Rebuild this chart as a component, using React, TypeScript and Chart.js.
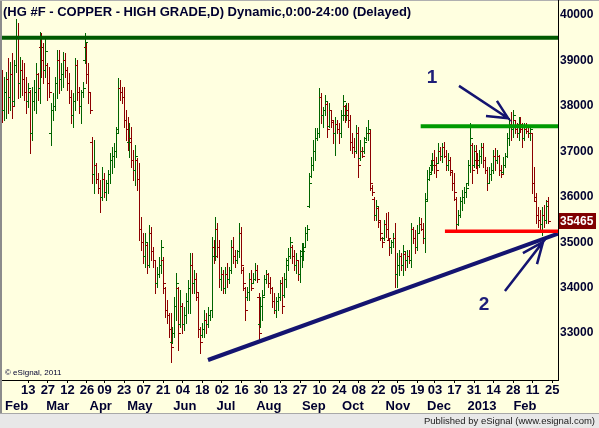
import React, { useEffect, useRef } from 'react';
import { Chart, registerables } from 'chart.js';

Chart.register(...registerables);

const TITLE = '(HG #F - COPPER - HIGH GRADE,D) Dynamic,0:00-24:00 (Delayed)';
const COPYRIGHT = '\u00A9 eSignal, 2011';
const FOOTER = 'Published by eSignal (www.esignal.com)';

// trading calendar
const FIRST_SESSION = '2012-01-25';
const LAST_CALENDAR_DAY = '2013-03-01';
const CLOSED_DAYS = ['2012-04-06', '2012-11-22'];

// daily OHLC, one value per session
const opens = [
  38500, 37900, 38300, 38600, 38200, 38700, 38100, 38900, 39500, 38500,
  38800, 38600, 38300, 38100, 38300, 37400, 38100, 38300, 38700, 38400,
  39300, 39000, 38800, 38900, 38500, 37400, 37900, 38000, 38500, 39000,
  38600, 38700, 39000, 38800, 38500, 38200, 37800, 38100, 38900, 38300,
  38000, 38300, 39000, 39300, 38700, 38300, 37200, 36500, 36700, 36400,
  36200, 36000, 36400, 36100, 36300, 36500, 36800, 36900, 37000, 37500,
  38400, 38300, 38200, 37700, 37500, 37200, 37300, 36800, 36600, 36800,
  36400, 35300, 35000, 34700, 34950, 34500, 35200, 34800, 34600, 34100,
  34300, 34500, 34600, 34000, 33500, 33400, 33100, 32800, 33000, 33600,
  34000, 33200, 33600, 33200, 33400, 33700, 34000, 34500, 34100, 34200,
  33800, 33100, 32950, 33100, 33300, 33200, 33400, 33500, 34900, 34700,
  35300, 34900, 34200, 34300, 34000, 34300, 34200, 34400, 34900, 34700,
  34600, 34800, 35200, 34400, 34000, 33800, 33900, 34200, 34100, 34200,
  34400, 33800, 33200, 33600, 33850, 34200, 34300, 34100, 34000, 33700,
  33500, 33700, 33800, 34100, 33850, 34200, 34500, 34700, 34900, 34700,
  34500, 34600, 34300, 34700, 34800, 34900, 35200, 35800, 36450, 36700,
  37000, 37300, 37400, 38200, 37800, 37900, 38050, 37550, 37900, 37650,
  37400, 37600, 37500, 37400, 37800, 38000, 37800, 37900, 37700, 37200,
  37100, 37000, 37400, 36850, 37000, 37000, 37300, 37400, 37400, 36200,
  35950, 35600, 35750, 35450, 35100, 35100, 35400, 35300, 35050, 34900,
  35000, 35100, 34300, 34500, 34700, 34500, 34750, 34600, 34700, 34600,
  35300, 35100, 34900, 35200, 35400, 35300, 35100, 35950, 36400, 36550,
  36700, 36800, 36700, 36750, 37000, 36900, 37100, 36900, 36700, 36800,
  36550, 36300, 35950, 35400, 35600, 35900, 36000, 36100, 36300, 36700,
  37150, 36700, 37000, 36800, 36700, 36900, 37100, 36800, 36600, 36300,
  36500, 36600, 36900, 36800, 36900, 36600, 36550, 36700, 36900, 37300,
  37600, 37500, 37700, 37500, 37400, 37600, 37500, 37300, 37500, 37450,
  37400, 37400, 36300, 35900, 35600, 35500, 35400, 35600, 35500, 35900,
];

const highs = [
  38790, 38640, 38750, 39050, 38960, 39160, 39010, 39910, 39820, 39080,
  39010, 38940, 38640, 38500, 38350, 38420, 38570, 38940, 38720, 39630,
  39600, 39380, 39490, 38940, 38860, 38060, 38280, 38640, 39230, 39230,
  38940, 39190, 39160, 38860, 38720, 38350, 38280, 39050, 39010, 38420,
  38350, 38530, 39600, 39380, 38940, 38280, 37310, 37250, 36740, 36520,
  36370, 36660, 36520, 36370, 36590, 36960, 37100, 37180, 37540, 38610,
  38570, 38420, 38420, 37910, 37760, 37620, 37540, 37030, 37140, 36850,
  36740, 35560, 35200, 35200, 34980, 35380, 35340, 34900, 34610, 34460,
  34680, 35050, 34680, 34020, 33730, 33440, 33440, 33140, 33800, 34320,
  34020, 33950, 33660, 33580, 33880, 34170, 34760, 34760, 34390, 34320,
  33880, 33140, 33220, 33510, 33440, 33580, 33510, 35120, 35050, 35560,
  35420, 35050, 34460, 34390, 34460, 34540, 34460, 35050, 35120, 34830,
  34830, 35420, 35340, 34460, 34020, 34020, 34320, 34390, 34320, 34540,
  34500, 33880, 33800, 33950, 34280, 34390, 34320, 34240, 34020, 33880,
  33800, 33880, 34170, 34240, 34320, 34650, 34870, 35120, 34940, 34830,
  34760, 34610, 34830, 34980, 34980, 35340, 35380, 36520, 36880, 37250,
  37510, 37510, 38390, 38280, 37980, 38240, 38090, 38060, 37910, 37690,
  37760, 37690, 37620, 37910, 38240, 38020, 38060, 38060, 37800, 37400,
  37290, 37580, 37540, 37250, 37100, 37320, 37540, 37690, 37470, 36260,
  35990, 35930, 35780, 35490, 35120, 35490, 35640, 35660, 35090, 35050,
  35200, 35420, 34760, 34830, 34760, 34940, 34790, 34830, 34830, 35420,
  35340, 35270, 35380, 35560, 35540, 35420, 36080, 36590, 36660, 36810,
  36960, 37030, 36880, 37180, 37100, 37180, 37210, 37030, 36960, 36880,
  36590, 36520, 35990, 35710, 35990, 36150, 36210, 36300, 36810, 37620,
  37180, 37140, 37140, 36960, 37030, 37180, 37180, 36880, 36660, 36660,
  36740, 37030, 37070, 37030, 36920, 36700, 36880, 36960, 37400, 37730,
  37870, 37910, 37690, 37620, 37760, 37760, 37620, 37620, 37620, 37540,
  37580, 37400, 36660, 36080, 35780, 35710, 35780, 35820, 35930, 36000,
];

const lows = [
  37650, 37690, 37730, 37840, 37910, 37730, 38020, 38750, 38170, 38200,
  38240, 38130, 37840, 37980, 36960, 37250, 37910, 37840, 38130, 38060,
  38640, 38500, 38640, 38130, 38200, 37140, 37690, 37910, 38170, 38280,
  38350, 38420, 38640, 38350, 38060, 37620, 37540, 37910, 38130, 37840,
  37620, 38200, 38940, 38500, 38060, 37840, 36300, 36080, 36300, 36080,
  35660, 35930, 35990, 35930, 36080, 36300, 36520, 36660, 36880, 37400,
  38130, 38060, 37540, 37250, 37030, 36880, 36660, 36370, 36260, 36150,
  35050, 34830, 34540, 34460, 34320, 34460, 34610, 34460, 33880, 34020,
  34240, 34320, 33880, 33360, 33220, 32910, 32370, 32790, 32910, 33290,
  32630, 33140, 33000, 33070, 33220, 33440, 33440, 33880, 33880, 33730,
  32910, 32560, 32910, 32910, 33000, 33140, 33290, 33360, 34540, 34610,
  34680, 34020, 33950, 33880, 33880, 34020, 34100, 34320, 34540, 34460,
  34540, 34680, 34320, 33950, 33290, 33730, 33730, 33950, 34100, 34170,
  34130, 32850, 33140, 33290, 33840, 34100, 34020, 33880, 33580, 33440,
  33360, 33510, 33730, 33440, 33800, 34020, 34390, 34650, 34540, 34390,
  34320, 34170, 34130, 34460, 34610, 34900, 35050, 35780, 36440, 36590,
  36810, 37250, 37320, 37620, 37540, 37800, 37320, 37540, 37540, 37180,
  36920, 37400, 37180, 37320, 37690, 37650, 37690, 37540, 37030, 36960,
  36880, 36960, 36440, 36810, 36880, 36960, 37250, 37250, 36150, 36040,
  35490, 35490, 35340, 35050, 34900, 35050, 35120, 35050, 34720, 34760,
  34900, 34020, 34020, 34280, 34390, 34280, 34390, 34460, 34540, 34460,
  34980, 34760, 34830, 35200, 35270, 34980, 34790, 35930, 36370, 36520,
  36590, 36520, 36440, 36740, 36810, 36770, 36880, 36590, 36590, 36480,
  36150, 35930, 35230, 35380, 35560, 35710, 35860, 35990, 36260, 36540,
  36300, 36660, 36630, 36520, 36660, 36740, 36660, 36520, 36150, 36300,
  36370, 36520, 36590, 36740, 36480, 36440, 36520, 36660, 36880, 37140,
  37250, 37320, 37400, 37320, 37250, 37430, 37100, 37250, 37400, 37320,
  37250, 36080, 35930, 35420, 35340, 35270, 35160, 35340, 35420, 35420,
];

const closes = [
  37900, 38300, 38600, 38200, 38700, 38000, 38900, 39500, 38500, 38800,
  38600, 38300, 38100, 38400, 37400, 38100, 38300, 38700, 38400, 39300,
  39000, 38800, 39200, 38500, 38300, 37900, 38000, 38500, 39000, 38600,
  38700, 39000, 38800, 38500, 38200, 37800, 38100, 38900, 38300, 38000,
  38300, 38400, 39400, 38700, 38300, 37900, 36500, 36700, 36400, 36200,
  36000, 36400, 36100, 36300, 36500, 36800, 36900, 37000, 37400, 38400,
  38300, 38200, 37700, 37500, 37200, 37300, 36800, 36600, 36900, 36400,
  35300, 35000, 34700, 35000, 34500, 35200, 34800, 34600, 34100, 34300,
  34500, 34900, 34100, 33500, 33400, 33100, 32700, 33000, 33600, 34100,
  33000, 33600, 33200, 33400, 33700, 34000, 34500, 34100, 34200, 33900,
  33100, 32800, 33100, 33300, 33200, 33400, 33500, 34900, 34700, 35300,
  34900, 34200, 34300, 34000, 34300, 34200, 34400, 34900, 34700, 34600,
  34800, 35200, 34500, 34100, 33500, 33900, 34200, 34000, 34200, 34400,
  34200, 33000, 33600, 33800, 34200, 34300, 34100, 34000, 33700, 33500,
  33700, 33800, 34100, 33600, 34200, 34600, 34700, 35000, 34700, 34500,
  34600, 34300, 34700, 34800, 34900, 35200, 35300, 36300, 36700, 37000,
  37300, 37400, 38200, 37800, 37900, 38100, 37500, 37900, 37700, 37400,
  37600, 37500, 37400, 37800, 38100, 37800, 37900, 37700, 37200, 37100,
  37000, 37400, 36700, 37000, 36900, 37200, 37400, 37500, 36300, 36100,
  35600, 35800, 35500, 35200, 35000, 35400, 35300, 35100, 34900, 35000,
  35100, 34300, 34500, 34700, 34500, 34800, 34600, 34700, 34600, 35300,
  35100, 34900, 35200, 35400, 35300, 35100, 35900, 36400, 36500, 36700,
  36800, 36700, 36600, 37000, 36900, 37100, 36900, 36700, 36800, 36600,
  36300, 36100, 35400, 35600, 35900, 36000, 36100, 36200, 36700, 37300,
  36600, 37000, 36800, 36700, 36900, 37100, 36800, 36600, 36300, 36500,
  36600, 36900, 36800, 36900, 36600, 36500, 36700, 36900, 37300, 37600,
  37500, 37800, 37500, 37400, 37600, 37500, 37300, 37500, 37450, 37400,
  37500, 36300, 36000, 35600, 35500, 35400, 35600, 35500, 35800, 35465,
];

const lastPrice = 35465;

const dayTickDates = [
  '2012-02-13', '2012-02-27', '2012-03-12', '2012-03-26', '2012-04-09', '2012-04-23',
  '2012-05-07', '2012-05-21', '2012-06-04', '2012-06-18', '2012-07-02', '2012-07-16',
  '2012-07-30', '2012-08-13', '2012-08-27', '2012-09-10', '2012-09-24', '2012-10-08',
  '2012-10-22', '2012-11-05', '2012-11-19', '2012-12-03', '2012-12-17', '2012-12-31',
  '2013-01-14', '2013-01-28', '2013-02-11', '2013-02-25',
];

const monthTickDates = [
  '2012-02-01', '2012-03-01', '2012-04-02', '2012-05-01', '2012-06-01', '2012-07-02',
  '2012-08-01', '2012-09-03', '2012-10-01', '2012-11-01', '2012-12-03', '2013-01-02',
  '2013-02-01',
];
const monthTickLabels = ['Feb', 'Mar', 'Apr', 'May', 'Jun', 'Jul', 'Aug', 'Sep', 'Oct', 'Nov', 'Dec', '2013', 'Feb'];

const priceTicks = [33000, 34000, 35000, 36000, 37000, 38000, 39000, 40000];

const Y_MIN = 31970;
const Y_MAX = 40330;
const X_MIN = -0.46;
const X_MAX = 283.94;

// drawn study lines: [session index, price]
const longResistance = [[X_MIN, 39500], [X_MAX, 39500]];
const recentResistance = [[213.7, 37550], [X_MAX, 37550]];
const recentSupport = [[226.1, 35240], [X_MAX, 35240]];
const trendLine = [[104.9, 32410], [X_MAX, 35190]];
const arrowOne = [[233.3, 38440], [258.4, 37730], [252.7, 38110], null, [247.1, 37780], [258.4, 37730]];
const arrowTwo = [[256.8, 33930], [276.3, 35010], [266.0, 34760], null, [273.2, 34520], [276.3, 35010]];
const noteOne = { label: '1', x: 219.5, y: 38614 };
const noteTwo = { label: '2', x: 246.1, y: 33620 };

const FONT = "'Liberation Sans', Arial, Helvetica, sans-serif";
const BG = '#FFFFE0';
const TEXT = '#000030';
const UP = '#006400';
const DOWN = '#8C0000';
const NAVY = '#141470';

function buildCalendar(): string[] {
  const out: string[] = [];
  const d = new Date(FIRST_SESSION + 'T12:00:00Z');
  const end = new Date(LAST_CALENDAR_DAY + 'T12:00:00Z');
  while (d.getTime() <= end.getTime()) {
    const wd = d.getUTCDay();
    const iso = d.toISOString().slice(0, 10);
    if (wd !== 0 && wd !== 6 && !CLOSED_DAYS.includes(iso)) out.push(iso);
    d.setUTCDate(d.getUTCDate() + 1);
  }
  return out;
}

const toPoints = (pts: (number[] | null)[]) =>
  pts.map((p, i) => (p ? { x: p[0], y: p[1] } : { x: i, y: null }));

export default function App() {
  const ref = useRef<HTMLCanvasElement>(null);

  useEffect(() => {
    const calendar = buildCalendar();
    const dayLabel = new Map<number, string>();
    const dayIdx = dayTickDates.map((d) => {
      const i = calendar.indexOf(d);
      dayLabel.set(i, d.slice(8, 10));
      return i;
    });
    const monthLabel = new Map<number, string>();
    const monthIdx = monthTickDates.map((d, k) => {
      const i = calendar.indexOf(d);
      monthLabel.set(i, monthTickLabels[k]);
      return i;
    });

    const barData = highs.map((h, i) => ({ x: i, y: [lows[i], h] }));

    const ohlcPlugin = {
      id: 'ohlc',
      beforeDatasetDraw(chart: any, args: any) {
        if (args.index !== 0) return;
        const { ctx, chartArea } = chart;
        const ys = chart.scales.y;
        ctx.save();
        ctx.beginPath();
        ctx.rect(chartArea.left, chartArea.top, chartArea.right - chartArea.left, chartArea.bottom - chartArea.top);
        ctx.clip();
        args.meta.data.forEach((el: any, i: number) => {
          const px = Math.floor(el.x);
          const a = Math.round(el.y);
          const b = Math.round(el.base);
          ctx.fillStyle = closes[i] >= opens[i] ? UP : DOWN;
          ctx.fillRect(px, Math.min(a, b), 1, Math.abs(b - a) + 1);
          const yo = Math.round(ys.getPixelForValue(opens[i]));
          const yc = Math.round(ys.getPixelForValue(closes[i]));
          ctx.fillRect(px - 2, yo, 2, 1);
          ctx.fillRect(px + 1, yc, 2, 1);
        });
        ctx.restore();
        return false;
      },
    };

    const decorPlugin = {
      id: 'decor',
      beforeDraw(chart: any) {
        const { ctx, width, height } = chart;
        ctx.save();
        ctx.fillStyle = BG;
        ctx.fillRect(0, 0, width, height);
        ctx.fillStyle = '#E8E8E8';
        ctx.fillRect(0, 413, width, height - 413);
        ctx.fillStyle = '#A8A8A8';
        ctx.fillRect(0, 413, width, 1);
        ctx.fillStyle = '#8C8C8C';
        ctx.fillRect(0, 0, 2, 413);
        ctx.fillStyle = '#B0B0B0';
        ctx.fillRect(0, 0, width, 1);
        ctx.restore();
      },
      afterDraw(chart: any) {
        const { ctx, chartArea, scales } = chart;
        const xs = scales.x;
        const ys = scales.y;
        ctx.save();
        // title
        ctx.fillStyle = TEXT;
        ctx.font = `bold 13px ${FONT}`;
        ctx.textBaseline = 'middle';
        ctx.textAlign = 'left';
        ctx.fillText(TITLE, 3, 12);
        // copyright
        ctx.font = `8px ${FONT}`;
        ctx.fillText(COPYRIGHT, 5, chartArea.bottom - 7);
        // notes
        ctx.fillStyle = '#1E1E78';
        ctx.font = `bold 19px ${FONT}`;
        ctx.textAlign = 'center';
        [noteOne, noteTwo].forEach((n) => {
          ctx.fillText(n.label, xs.getPixelForValue(n.x), ys.getPixelForValue(n.y));
        });
        // last price tag
        const py = Math.round(ys.getPixelForValue(lastPrice));
        ctx.fillStyle = '#800000';
        ctx.fillRect(chartArea.right + 1, py - 8, 37, 16);
        ctx.fillStyle = '#FFFFFF';
        ctx.font = `bold 12px ${FONT}`;
        ctx.textAlign = 'left';
        ctx.fillText(String(lastPrice), chartArea.right + 2, py + 1);
        // footer
        ctx.fillStyle = '#202020';
        ctx.font = `9.5px ${FONT}`;
        ctx.textAlign = 'right';
        ctx.fillText(FOOTER, 595, 421);
        ctx.restore();
      },
    };

    const lineDs = (pts: (number[] | null)[], color: string, w: number) => ({
      type: 'line' as const,
      data: toPoints(pts),
      borderColor: color,
      borderWidth: w,
      pointRadius: 0,
      spanGaps: false,
      fill: false,
      order: 0,
      borderCapStyle: 'butt' as const,
    });

    const tickFont = { family: FONT, weight: 'bold' as const, size: 13 };

    const chart = new Chart(ref.current as HTMLCanvasElement, {
      type: 'bar',
      data: {
        datasets: [
          {
            type: 'bar',
            data: barData as any,
            backgroundColor: UP,
            barThickness: 1,
            grouped: false,
            order: 1,
          } as any,
          lineDs(longResistance, '#005A00', 4),
          lineDs(recentResistance, '#009A00', 4),
          lineDs(recentSupport, '#FF0000', 3.5),
          lineDs(trendLine, NAVY, 4),
          lineDs(arrowOne, NAVY, 2.5),
          lineDs(arrowTwo, NAVY, 2.5),
        ],
      },
      options: {
        responsive: false,
        animation: false,
        devicePixelRatio: 1,
        events: [],
        layout: { padding: { left: 2, right: 0, top: 0, bottom: 15 } },
        plugins: { legend: { display: false }, tooltip: { enabled: false }, title: { display: false } },
        scales: {
          x: {
            type: 'linear',
            position: 'bottom',
            min: X_MIN,
            max: X_MAX,
            offset: false,
            grid: { display: true, drawOnChartArea: false, drawTicks: true, tickLength: 3, color: '#000000', offset: false },
            border: { display: true, color: '#000000', width: 1 },
            ticks: {
              autoSkip: false,
              maxRotation: 0,
              minRotation: 0,
              padding: 0,
              color: TEXT,
              font: tickFont,
              callback: (v: any) => dayLabel.get(Number(v)) ?? '',
            },
            afterBuildTicks: (s: any) => {
              s.ticks = dayIdx.map((v) => ({ value: v }));
            },
            afterFit: (s: any) => {
              s.height = 18;
              s.paddingLeft = 0;
              s.paddingRight = 0;
            },
          },
          xm: {
            type: 'linear',
            position: 'bottom',
            weight: 1,
            min: X_MIN,
            max: X_MAX,
            offset: false,
            grid: { display: false, drawTicks: false },
            border: { display: false },
            ticks: {
              autoSkip: false,
              maxRotation: 0,
              minRotation: 0,
              padding: 1,
              labelOffset: 4,
              color: TEXT,
              font: tickFont,
              callback: (v: any) => monthLabel.get(Number(v)) ?? '',
            },
            afterBuildTicks: (s: any) => {
              s.ticks = monthIdx.map((v) => ({ value: v }));
            },
            afterFit: (s: any) => {
              s.height = 15;
              s.paddingLeft = 0;
              s.paddingRight = 0;
            },
          },
          y: {
            type: 'linear',
            position: 'right',
            min: Y_MIN,
            max: Y_MAX,
            grid: { display: false, drawTicks: false },
            border: { display: true, color: '#000000', width: 1 },
            ticks: {
              padding: 2,
              color: TEXT,
              font: { family: FONT, weight: 'bold' as const, size: 12 },
              callback: (v: any) => String(v),
            },
            afterBuildTicks: (s: any) => {
              s.ticks = priceTicks.map((v) => ({ value: v }));
            },
            afterFit: (s: any) => {
              s.width = 41;
              s.paddingTop = 0;
              s.paddingBottom = 0;
            },
          },
        },
      } as any,
      plugins: [ohlcPlugin, decorPlugin],
    });

    return () => chart.destroy();
  }, []);

  return (
    <div style={{ position: 'fixed', left: 0, top: 0, width: 599, height: 428 }}>
      <canvas ref={ref} width={599} height={428} style={{ display: 'block' }} />
    </div>
  );
}
